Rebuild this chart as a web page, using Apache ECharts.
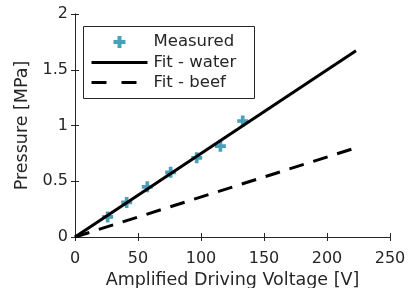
<!DOCTYPE html>
<html><head><meta charset="utf-8">
<script src="https://cdn.jsdelivr.net/npm/echarts@6/dist/echarts.min.js"></script>
<style>html,body{margin:0;padding:0;background:#fff}#c{width:409px;height:288px}</style>
</head><body><div id="c"></div>
<script>
const measuredX = [25.9, 41.0, 57.4, 75.9, 96.6, 115.4, 133.1];
const measuredY = [0.18, 0.31, 0.45, 0.58, 0.71, 0.815, 1.04];
const waterX = [0, 223];
const waterY = [0, 1.67];
const beefX = [0, 223];
const beefY = [0, 0.80];
const xTicks = [0, 50, 100, 150, 200, 250];
const yTicks = [0, 0.5, 1, 1.5, 2];

const txt = '#262626';
const font = 'DejaVu Sans';
const plus = 'path://M-1,-3H1V-1H3V1H1V3H-1V1H-3V-1H-1Z';
const zip = (a, b) => a.map((v, i) => [v, b[i]]);

const chart = echarts.init(document.getElementById('c'));
const axBase = {
  axisLine: {show: true, lineStyle: {color: txt, width: 1}},
  axisTick: {show: true, inside: true, length: 4, lineStyle: {color: txt}},
  splitLine: {show: false}
};
const legTxt = {color: txt, fontSize: 16.5, fontFamily: font};
chart.setOption({
  animation: false,
  textStyle: {fontFamily: font},
  grid: {left: 75, right: 19, top: 14, bottom: 51, containLabel: false, outerBoundsMode: 'none'},
  xAxis: [
    Object.assign({type: 'value', min: xTicks[0], max: xTicks[xTicks.length - 1], interval: 50, position: 'bottom',
      name: 'Amplified Driving Voltage [V]', nameLocation: 'middle', nameGap: 34,
      nameTextStyle: {color: txt, fontSize: 17.5, fontFamily: font},
      axisLabel: {color: txt, fontSize: 16, fontFamily: font, margin: 14}}, axBase),
    Object.assign({type: 'value', min: 0, max: 250, interval: 50, position: 'top',
      axisLabel: {show: false}}, axBase)
  ],
  yAxis: [
    Object.assign({type: 'value', min: yTicks[0], max: yTicks[yTicks.length - 1], interval: 0.5, position: 'left',
      name: 'Pressure [MPa]', nameLocation: 'middle', nameGap: 37,
      nameTextStyle: {color: txt, fontSize: 17.5, fontFamily: font},
      axisLabel: {color: txt, fontSize: 16, fontFamily: font, margin: 7,
        formatter: v => String(v)}}, axBase),
    Object.assign({type: 'value', min: 0, max: 2, interval: 0.5, position: 'right',
      axisLabel: {show: false}}, axBase)
  ],
  legend: [
    {data: [{name: 'Measured'}], left: 113.5, top: 33.5, itemWidth: 12, itemHeight: 12, itemGap: 0,
     textStyle: Object.assign({padding: [0, 0, 0, 23]}, legTxt), padding: 0},
    {data: [{name: 'Fit - water', icon: 'path://M0,0H56V3H0Z'}], left: 91.5, top: 54, itemWidth: 56, itemHeight: 3, itemGap: 0,
     itemStyle: {color: '#000'},
     textStyle: Object.assign({padding: [0, 0, 0, 1]}, legTxt), padding: 0},
    {data: [{name: 'Fit - beef', icon: 'path://M0,0H15V3H0ZM30,0H45V3H30Z'}], left: 91.5, top: 74, itemWidth: 45, itemHeight: 3, itemGap: 0,
     itemStyle: {color: '#000'},
     textStyle: Object.assign({padding: [0, 0, 0, 12]}, legTxt), padding: 0}
  ],
  graphic: [{type: 'rect', shape: {x: 83.5, y: 26.5, width: 171, height: 72},
    style: {fill: '#fff', stroke: txt, lineWidth: 1}, z: 1}],
  series: [
    {name: 'Fit - water', type: 'line', data: zip(waterX, waterY), showSymbol: false,
     symbol: 'none', lineStyle: {color: '#000', width: 3}, itemStyle: {color: '#000'}, z: 3},
    {name: 'Fit - beef', type: 'line', data: zip(beefX, beefY), showSymbol: false,
     symbol: 'none', lineStyle: {color: '#000', width: 3, type: [15, 10]}, itemStyle: {color: '#000'}, z: 3},
    {name: 'Measured', type: 'scatter', data: zip(measuredX, measuredY), symbol: plus,
     symbolSize: 11, itemStyle: {color: '#1a8aa8'}, z: 2}
  ]
});
</script></body></html>
